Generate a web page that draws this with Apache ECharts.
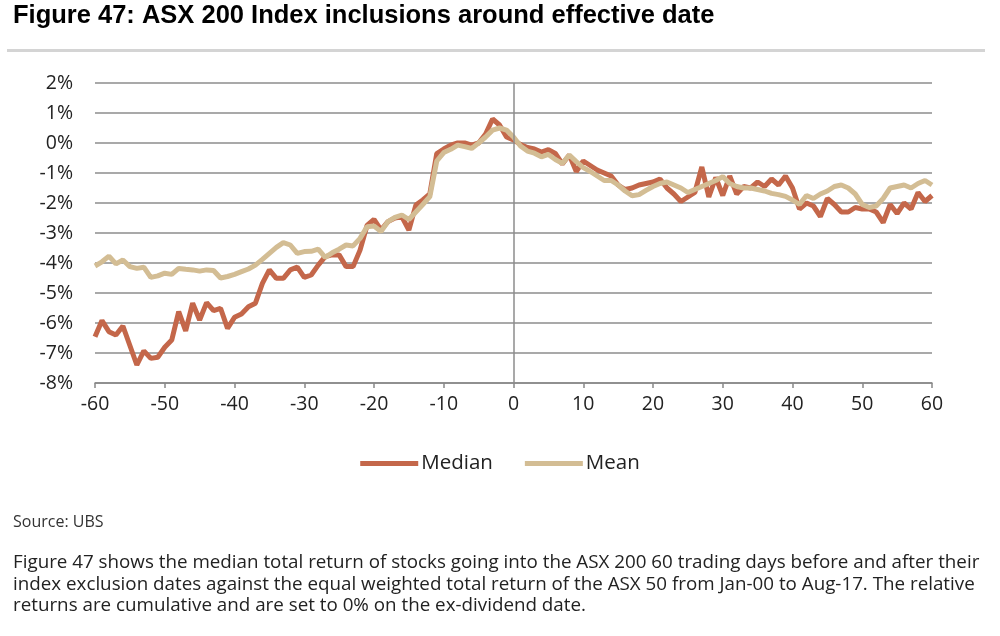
<!DOCTYPE html>
<html>
<head>
<meta charset="utf-8">
<script src="https://cdn.jsdelivr.net/npm/echarts@6/dist/echarts.min.js"></script>
<style>
  html, body { margin: 0; padding: 0; background: #fff; }
  #chartWrapper { width: 1000px; height: 636px; }
</style>
</head>
<body>
<div id="chartWrapper"></div>
<script>
// trading days relative to effective date, -60 .. 60
var startDay = -60;
var endDay = 60;

// cumulative relative return, %, one value per trading day
var medianData = [
  -6.46, -5.92, -6.29, -6.4, -6.1, -6.75, -7.4, -6.93, -7.18, -7.14,
  -6.81, -6.57, -5.62, -6.26, -5.34, -5.9, -5.32, -5.59, -5.51, -6.18,
  -5.81, -5.7, -5.46, -5.34, -4.68, -4.23, -4.51, -4.51, -4.23, -4.14,
  -4.48, -4.4, -4.07, -3.79, -3.73, -3.73, -4.12, -4.12, -3.57, -2.75,
  -2.55, -2.9, -2.62, -2.5, -2.46, -2.9, -2.07, -1.9, -1.7, -0.35,
  -0.2, -0.07, 0.0, 0.0, -0.07, 0.0, 0.3, 0.8, 0.6, 0.2,
  0.1, -0.05, -0.15, -0.2, -0.3, -0.22, -0.35, -0.7, -0.4, -0.95,
  -0.6, -0.75, -0.9, -1.0, -1.1, -1.4, -1.55, -1.5, -1.4, -1.35,
  -1.3, -1.2, -1.5, -1.7, -1.95, -1.8, -1.65, -0.8, -1.8, -1.15,
  -1.75, -1.1, -1.7, -1.45, -1.5, -1.3, -1.45, -1.2, -1.4, -1.1,
  -1.5, -2.2, -2.0, -2.1, -2.45, -1.85, -2.05, -2.3, -2.3, -2.15,
  -2.2, -2.2, -2.3, -2.65, -2.05, -2.35, -2.0, -2.2, -1.65, -1.95,
  -1.75
];
var meanData = [
  -4.1, -3.96, -3.77, -4.03, -3.9, -4.12, -4.18, -4.14, -4.48, -4.43,
  -4.34, -4.38, -4.18, -4.21, -4.23, -4.27, -4.23, -4.25, -4.5, -4.45,
  -4.38, -4.29, -4.2, -4.07, -3.88, -3.68, -3.48, -3.32, -3.4, -3.68,
  -3.62, -3.61, -3.54, -3.81, -3.66, -3.54, -3.4, -3.43, -3.18, -2.79,
  -2.77, -2.95, -2.62, -2.48, -2.4, -2.55, -2.3, -2.05, -1.79, -0.6,
  -0.32, -0.21, -0.07, -0.12, -0.18, 0.0, 0.2, 0.43, 0.5, 0.43,
  0.2, -0.1, -0.27, -0.34, -0.46, -0.38, -0.55, -0.68, -0.4, -0.62,
  -0.82, -0.95, -1.1, -1.25, -1.25, -1.4, -1.6, -1.76, -1.72, -1.58,
  -1.45, -1.35, -1.3, -1.4, -1.5, -1.65, -1.55, -1.45, -1.35, -1.25,
  -1.12, -1.35, -1.45, -1.5, -1.5, -1.55, -1.6, -1.68, -1.72, -1.78,
  -1.9, -2.05, -1.75, -1.85, -1.7, -1.6, -1.45, -1.4, -1.5, -1.7,
  -2.05, -2.15, -2.1, -1.85, -1.5, -1.45, -1.4, -1.5, -1.35, -1.25,
  -1.4
];

var titleText = 'Figure 47: ASX 200 Index inclusions around effective date';
var sourceText = 'Source: UBS';
var noteLines = [
  'Figure 47 shows the median total return of stocks going into the ASX 200 60 trading days before and after their',
  'index exclusion dates against the equal weighted total return of the ASX 50 from Jan-00 to Aug-17. The relative',
  'returns are cumulative and are set to 0% on the ex-dividend date.'
];

function toPairs(values){
    var out = [];
    for (var i = 0; i < values.length; i++) {
        out.push([startDay + i, values[i]]);
    }
    return out;
}

var chart = echarts.init(document.getElementById('chartWrapper'));

var textFont = '"Open Sans", "Noto Sans", sans-serif';
var graphics = [
    { type: 'text', left: 13, top: 3,
      style: { text: titleText, font: 'bold 25.5px "Liberation Sans", Arial, sans-serif', fill: '#000' } },
    { type: 'rect', left: 7, top: 49, shape: { width: 978, height: 3 }, style: { fill: '#d4d4d4' } },
    { type: 'text', left: 13, top: 514,
      style: { text: sourceText, font: '16px ' + textFont, fill: '#333' } }
];
for (var i = 0; i < noteLines.length; i++) {
    graphics.push({ type: 'text', left: 13, top: 553 + i * 21.8,
        style: { text: noteLines[i], font: '18.8px ' + textFont, fill: '#222' } });
}

var option = {
    backgroundColor: '#fff',
    animation: false,
    graphic: graphics,
    grid: {
        left: 95,
        right: 68,
        top: 83,
        bottom: 253
    },
    legend: {
        data: ['Median', 'Mean'],
        bottom: 157,
        left: 'center',
        itemWidth: 58,
        itemHeight: 5,
        itemGap: 32,
        icon: 'rect',
        textStyle: { color: '#222', fontSize: 20.5, fontFamily: textFont, padding: [0, 0, 0, -2] }
    },
    xAxis: {
        type: 'value',
        min: startDay,
        max: endDay,
        interval: 10,
        axisLine: { onZero: false, lineStyle: { color: '#888', width: 1.5 } },
        axisTick: { show: true, length: 5, lineStyle: { color: '#888', width: 1.5 } },
        axisLabel: { color: '#222', fontSize: 19.5, fontFamily: textFont, margin: 11 },
        splitLine: { show: false }
    },
    yAxis: {
        type: 'value',
        min: -8,
        max: 2,
        interval: 1,
        axisLine: { show: false },
        axisTick: { show: false },
        axisLabel: {
            color: '#222', fontSize: 19.5, fontFamily: textFont, margin: 22,
            formatter: function(v){ return v + '%'; }
        },
        splitLine: { lineStyle: { color: '#8c8c8c', width: 1.5 } }
    },
    series: [
        {
            name: 'Median',
            type: 'line',
            data: toPairs(medianData),
            symbol: 'none',
            lineStyle: { color: '#c4674a', width: 5 },
            itemStyle: { color: '#c4674a' },
            markLine: {
                silent: true,
                symbol: 'none',
                label: { show: false },
                lineStyle: { color: '#8c8c8c', width: 1.5, type: 'solid' },
                data: [{ xAxis: 0 }]
            },
            z: 2
        },
        {
            name: 'Mean',
            type: 'line',
            data: toPairs(meanData),
            symbol: 'none',
            lineStyle: { color: '#d3bd94', width: 5 },
            itemStyle: { color: '#d3bd94' },
            z: 3
        }
    ]
};
chart.setOption(option);
</script>
</body>
</html>
